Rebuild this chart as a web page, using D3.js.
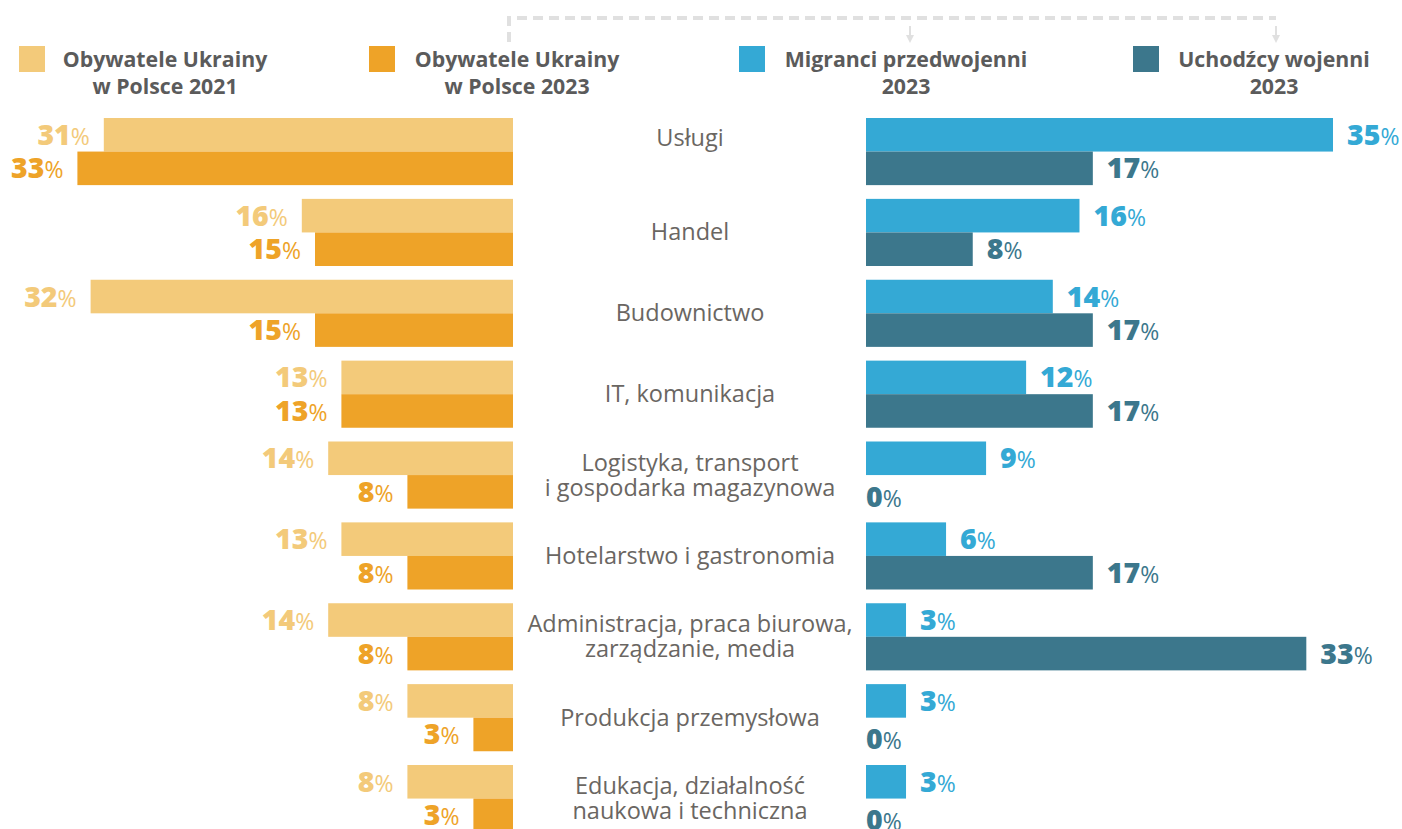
<!DOCTYPE html>
<html>
<head>
<meta charset="utf-8">
<script src="https://cdn.jsdelivr.net/npm/d3@7"></script>
<style type="text/css">
  body{
    margin: 0;
    background: white;
    font-family: 'Open Sans', sans-serif;
  }
  .legendText{
    fill: #5b5b5b;
    font-size: 21.3px;
    font-weight: 700;
  }
  .catText{
    fill: #6a6662;
    font-size: 23.5px;
  }
  .valText{
    font-size: 28.5px;
    font-weight: 800;
  }
  .pctText{
    font-size: 23px;
    font-weight: 400;
  }
</style>
</head>
<body>

<svg id="chart" width="1402" height="829"></svg>

<script>

// categories (multi-line labels split by |)
var categories = [
  "Usługi",
  "Handel",
  "Budownictwo",
  "IT, komunikacja",
  "Logistyka, transport|i gospodarka magazynowa",
  "Hotelarstwo i gastronomia",
  "Administracja, praca biurowa,|zarządzanie, media",
  "Produkcja przemysłowa",
  "Edukacja, działalność|naukowa i techniczna"
];

var ukr2021   = [31, 16, 32, 13, 14, 13, 14, 8, 8];
var ukr2023   = [33, 15, 15, 13, 8, 8, 8, 3, 3];
var prewar    = [35, 16, 14, 12, 9, 6, 3, 3, 3];
var refugees  = [17, 8, 17, 17, 0, 17, 33, 0, 0];

var legendLabels = [
  ["Obywatele Ukrainy", "w Polsce 2021"],
  ["Obywatele Ukrainy", "w Polsce 2023"],
  ["Migranci przedwojenni", "2023"],
  ["Uchodźcy wojenni", "2023"]
];

var colors = ["#f3ca7a", "#eea328", "#34a9d5", "#3c778c"];

var svg = d3.select("#chart");

// scales
var step = 80.875;
var y = d3.scaleBand()
  .domain(d3.range(categories.length))
  .range([118, 118 + step * (categories.length - 0.17)])
  .paddingInner(0.17)
  .paddingOuter(0);

var xLeft = d3.scaleLinear().domain([0, 35]).range([513, 513 - 462]);
var xRight = d3.scaleLinear().domain([0, 35]).range([866, 866 + 467]);

var bh = y.bandwidth() / 2;

// ---- dashed bracket on top
var grey = "#e0e0e0";
svg.append("path")
  .attr("d", "M509,42 V18 H1276")
  .attr("fill", "none")
  .attr("stroke", grey)
  .attr("stroke-width", 4)
  .attr("stroke-dasharray", "10,6");

[910, 1276].forEach(function(ax) {
  svg.append("line")
    .attr("x1", ax).attr("x2", ax)
    .attr("y1", 26).attr("y2", 36)
    .attr("stroke", grey)
    .attr("stroke-width", 2);
  svg.append("path")
    .attr("d", "M" + (ax - 4) + ",35 L" + (ax + 4) + ",35 L" + ax + ",43 Z")
    .attr("fill", grey);
});

// ---- legend
var legendPos = [
  {sq: 19, tx: 165},
  {sq: 369, tx: 517},
  {sq: 739, tx: 906},
  {sq: 1133, tx: 1274}
];

legendLabels.forEach(function(lines, i) {
  svg.append("rect")
    .attr("x", legendPos[i].sq)
    .attr("y", 46)
    .attr("width", 26)
    .attr("height", 26)
    .attr("fill", colors[i]);

  var t = svg.append("text")
    .attr("class", "legendText")
    .attr("text-anchor", "middle")
    .attr("x", legendPos[i].tx)
    .attr("y", 67);
  lines.forEach(function(l, j) {
    t.append("tspan")
      .attr("x", legendPos[i].tx)
      .attr("dy", j === 0 ? 0 : 27)
      .text(l);
  });
});

// ---- bars
function drawSide(values, color, scale, dir, offset) {
  var g = svg.append("g");

  g.selectAll("rect")
    .data(values)
    .enter()
    .append("rect")
    .attr("x", function(d) { return dir < 0 ? scale(d) : scale(0); })
    .attr("y", function(d, i) { return y(i) + offset; })
    .attr("width", function(d) { return Math.abs(scale(d) - scale(0)); })
    .attr("height", bh)
    .attr("fill", color);

  var lab = g.selectAll("text")
    .data(values)
    .enter()
    .append("text")
    .attr("class", "valText")
    .attr("fill", color)
    .attr("text-anchor", dir < 0 ? "end" : "start")
    .attr("x", function(d) {
      var gap = d > 0 ? 14 : 0;
      return scale(d) + dir * gap;
    })
    .attr("y", function(d, i) {
      // zero labels (no bar) sit a little lower
      return y(i) + offset + bh / 2 + 10 + (d === 0 ? 5 : 0);
    });

  lab.append("tspan").text(function(d) { return d; });
  lab.append("tspan").attr("class", "pctText").text("%");
}

drawSide(ukr2021, colors[0], xLeft, -1, 0);
drawSide(ukr2023, colors[1], xLeft, -1, bh);
drawSide(prewar, colors[2], xRight, 1, 0);
drawSide(refugees, colors[3], xRight, 1, bh);

// ---- category labels
var catG = svg.append("g");
categories.forEach(function(c, i) {
  var lines = c.split("|");
  var cy = y(i) + y.bandwidth() / 2 + (i === 0 ? -14 : 0);
  var t = catG.append("text")
    .attr("class", "catText")
    .attr("text-anchor", "middle")
    .attr("x", 690)
    .attr("y", cy - (lines.length - 1) * 12.5 + 8);
  lines.forEach(function(l, j) {
    t.append("tspan")
      .attr("x", 690)
      .attr("dy", j === 0 ? 0 : 25)
      .text(l);
  });
});

</script>

</body>
</html>
